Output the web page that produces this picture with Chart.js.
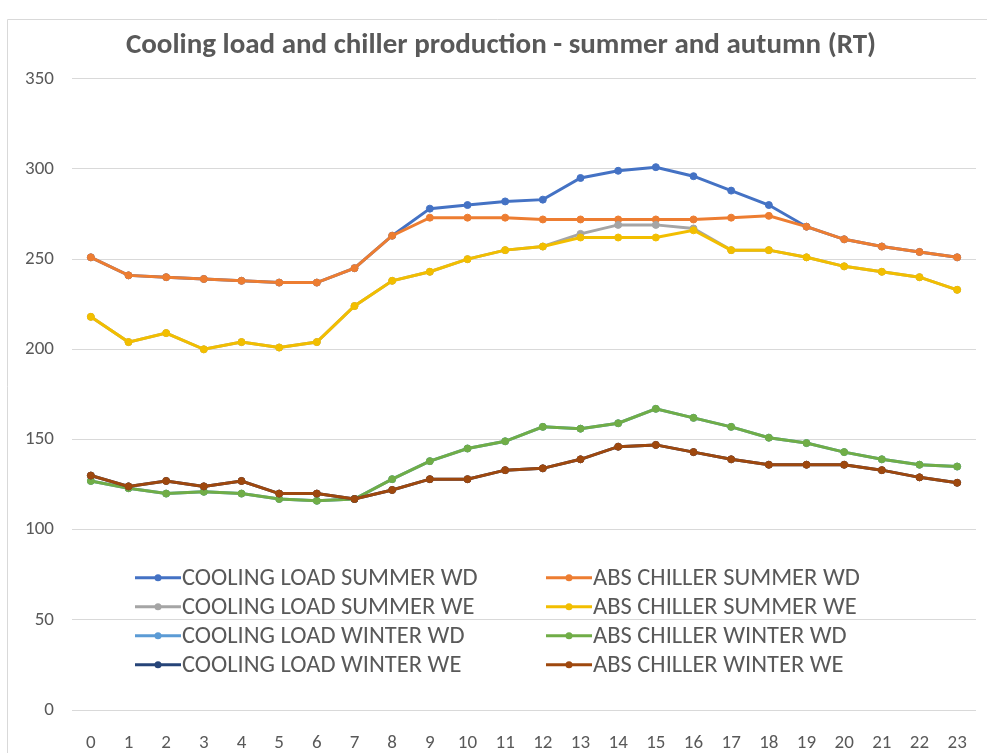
<!DOCTYPE html>
<html>
<head>
<meta charset="utf-8">
<title>Cooling load and chiller production</title>
<script src="https://cdn.jsdelivr.net/npm/chart.js@4.4.1/dist/chart.umd.min.js"></script>
<style>
  html, body { margin: 0; padding: 0; background: #fff; }
  #chart { display: block; }
</style>
</head>
<body>
<canvas id="chart" width="987" height="753"></canvas>
<script>
// hours of the day
const hours = ['0','1','2','3','4','5','6','7','8','9','10','11','12','13','14','15','16','17','18','19','20','21','22','23'];

// RT per hour
const coolingSummerWD = [251, 241, 240, 239, 238, 237, 237, 245, 263, 278, 280, 282, 283, 295, 299, 301, 296, 288, 280, 268, 261, 257, 254, 251];
const chillerSummerWD = [251, 241, 240, 239, 238, 237, 237, 245, 263, 273, 273, 273, 272, 272, 272, 272, 272, 273, 274, 268, 261, 257, 254, 251];
const coolingSummerWE = [218, 204, 209, 200, 204, 201, 204, 224, 238, 243, 250, 255, 257, 264, 269, 269, 267, 255, 255, 251, 246, 243, 240, 233];
const chillerSummerWE = [218, 204, 209, 200, 204, 201, 204, 224, 238, 243, 250, 255, 257, 262, 262, 262, 266, 255, 255, 251, 246, 243, 240, 233];
const coolingWinterWD = [127, 123, 120, 121, 120, 117, 116, 117, 128, 138, 145, 149, 157, 156, 159, 167, 162, 157, 151, 148, 143, 139, 136, 135];
const chillerWinterWD = [127, 123, 120, 121, 120, 117, 116, 117, 128, 138, 145, 149, 157, 156, 159, 167, 162, 157, 151, 148, 143, 139, 136, 135];
const coolingWinterWE = [130, 124, 127, 124, 127, 120, 120, 117, 122, 128, 128, 133, 134, 139, 146, 147, 143, 139, 136, 136, 136, 133, 129, 126];
const chillerWinterWE = [130, 124, 127, 124, 127, 120, 120, 117, 122, 128, 128, 133, 134, 139, 146, 147, 143, 139, 136, 136, 136, 133, 129, 126];

const seriesNames = [
  'COOLING LOAD SUMMER WD', 'ABS CHILLER SUMMER WD',
  'COOLING LOAD SUMMER WE', 'ABS CHILLER SUMMER WE',
  'COOLING LOAD WINTER WD', 'ABS CHILLER WINTER WD',
  'COOLING LOAD WINTER WE', 'ABS CHILLER WINTER WE'
];
const seriesValues = [
  coolingSummerWD, chillerSummerWD,
  coolingSummerWE, chillerSummerWE,
  coolingWinterWD, chillerWinterWD,
  coolingWinterWE, chillerWinterWE
];
const seriesColors = ['#4472C4', '#ED7D31', '#A5A5A5', '#F2BE00', '#5B9BD5', '#70AD47', '#264478', '#9E480E'];

const yMin = 0;
const yMax = 350;
const yStep = 50;

const FONT = "Carlito, Lato, 'Liberation Sans', sans-serif";
const TEXT = '#595959';

// thin frame on the top and left edge
const framePlugin = {
  id: 'frame',
  beforeDraw(chart) {
    const ctx = chart.ctx;
    ctx.save();
    ctx.strokeStyle = '#d9d9d9';
    ctx.lineWidth = 1;
    ctx.beginPath();
    ctx.moveTo(7.5, chart.height);
    ctx.lineTo(7.5, 19.5);
    ctx.lineTo(chart.width, 19.5);
    ctx.stroke();
    ctx.restore();
  }
};

// two-column legend sitting inside the plot area
const innerLegend = {
  id: 'innerLegend',
  afterDatasetsDraw(chart) {
    const ctx = chart.ctx;
    const area = chart.chartArea;
    const colX = [area.left + 63, area.left + 474];
    const rowY = area.top + 499;
    const rowH = 29;
    const sample = 46;
    ctx.save();
    ctx.font = '24.5px ' + FONT;
    ctx.textBaseline = 'middle';
    chart.data.datasets.forEach((ds, i) => {
      const x = colX[i % 2];
      const y = rowY + Math.floor(i / 2) * rowH;
      ctx.strokeStyle = ds.borderColor;
      ctx.lineWidth = 3;
      ctx.beginPath();
      ctx.moveTo(x, y);
      ctx.lineTo(x + sample, y);
      ctx.stroke();
      ctx.fillStyle = ds.borderColor;
      ctx.beginPath();
      ctx.arc(x + sample / 2, y, 3.5, 0, Math.PI * 2);
      ctx.fill();
      ctx.fillStyle = TEXT;
      ctx.fillText(ds.label, x + sample + 1, y + 1);
    });
    ctx.restore();
  }
};

new Chart(document.getElementById('chart'), {
  type: 'line',
  data: {
    labels: hours,
    datasets: seriesNames.map((name, i) => ({
      label: name,
      data: seriesValues[i],
      borderColor: seriesColors[i],
      backgroundColor: seriesColors[i],
      borderWidth: 3,
      pointRadius: 3.5,
      pointBorderWidth: 1,
      pointBackgroundColor: seriesColors[i],
      pointBorderColor: seriesColors[i],
      tension: 0,
      order: seriesNames.length - i
    }))
  },
  options: {
    responsive: false,
    animation: false,
    layout: { padding: { left: 26, right: 11, top: 0, bottom: 0 } },
    plugins: {
      legend: { display: false },
      tooltip: { enabled: false },
      title: {
        display: true,
        text: 'Cooling load and chiller production - summer and autumn (RT)',
        color: TEXT,
        font: { family: FONT, size: 29, weight: 'bold' },
        padding: { top: 28, bottom: 16 }
      }
    },
    scales: {
      x: {
        offset: true,
        grid: { display: false },
        border: { display: false },
        ticks: { color: TEXT, font: { family: FONT, size: 19 }, padding: 14, maxRotation: 0, autoSkip: false },
        afterFit(scale) { scale.height = 43; }
      },
      y: {
        min: yMin,
        max: yMax,
        ticks: { stepSize: yStep, color: TEXT, font: { family: FONT, size: 19 }, padding: 18 },
        grid: { color: '#d9d9d9', lineWidth: 1, drawTicks: false },
        border: { display: false },
        afterFit(scale) { scale.width = 46; }
      }
    }
  },
  plugins: [framePlugin, innerLegend]
});
</script>
</body>
</html>
